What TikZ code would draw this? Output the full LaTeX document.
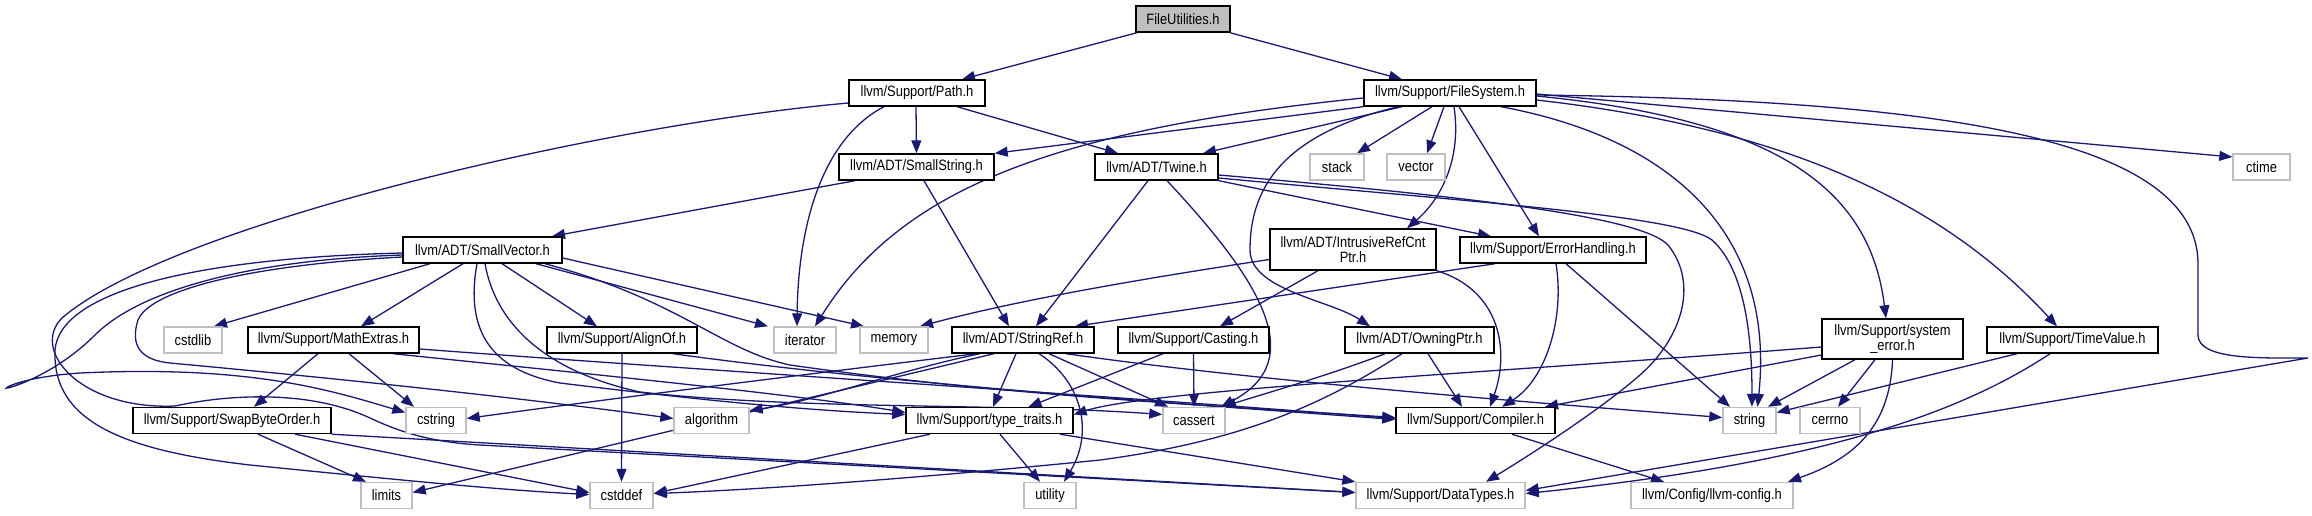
\documentclass[tikz,border=0pt]{standalone}
\usepackage{fontspec}
\setmainfont{Liberation Sans}[FakeStretch=0.86]
\usetikzlibrary{arrows.meta,backgrounds}
\definecolor{navy}{RGB}{25,25,112}
\definecolor{extgray}{RGB}{191,191,191}
\begin{document}
\begin{tikzpicture}[x=1pt,y=-1pt,
  box/.style={draw=black, line width=1.4pt, fill=white, minimum height=26pt, inner sep=0pt, font=\fontsize{15}{15}\selectfont, align=center},
  ext/.style={box, draw=extgray},
  dep/.style={draw=navy, line width=1.3pt, -{Triangle[length=13pt,width=10pt]}}]
\useasboundingbox (0,0) rectangle (2312,515);
% nodes
\node[box, fill=extgray, minimum width=94pt] (root) at (1183,19) {FileUtilities.h};
\node[box, minimum width=136pt] (path) at (917,93) {llvm/Support/Path.h};
\node[box, minimum width=172pt] (fs) at (1450,93) {llvm/Support/FileSystem.h};
\node[box, minimum width=155pt] (ss) at (916.5,167) {llvm/ADT/SmallString.h};
\node[box, minimum width=123pt] (tw) at (1156.5,167) {llvm/ADT/Twine.h};
\node[ext, minimum width=54pt] (stack) at (1337,167) {stack};
\node[ext, minimum width=58pt] (vector) at (1416,167) {vector};
\node[ext, minimum width=57pt] (ctime) at (2261.5,167) {ctime};
\node[box, minimum width=166pt, minimum height=41pt] (irc) at (1353,249.5) {llvm/ADT/IntrusiveRefCnt\\Ptr.h};
\node[box, minimum width=186pt] (eh) at (1553,250) {llvm/Support/ErrorHandling.h};
\node[box, minimum width=159pt] (sv) at (482.5,250) {llvm/ADT/SmallVector.h};
\node[ext, minimum width=58pt] (cstdlib) at (193,340) {cstdlib};
\node[box, minimum width=171pt] (me) at (333.5,340) {llvm/Support/MathExtras.h};
\node[box, minimum width=150pt] (align) at (622,340) {llvm/Support/AlignOf.h};
\node[ext, minimum width=62pt] (iter) at (805,340) {iterator};
\node[ext, minimum width=68pt] (mem) at (894,340) {memory};
\node[box, minimum width=142pt] (sr) at (1023,340) {llvm/ADT/StringRef.h};
\node[box, minimum width=151pt] (cast) at (1193.5,340) {llvm/Support/Casting.h};
\node[box, minimum width=149pt] (own) at (1419.5,340) {llvm/ADT/OwningPtr.h};
\node[box, minimum width=141pt, minimum height=40pt] (se) at (1892.5,339) {llvm/Support/system\\\_error.h};
\node[box, minimum width=171pt] (tv) at (2072.5,340) {llvm/Support/TimeValue.h};
\node[box, minimum width=198pt] (sbo) at (232,420.5) {llvm/Support/SwapByteOrder.h};
\node[ext, minimum width=60pt] (cstring) at (436,420.5) {cstring};
\node[ext, minimum width=75pt] (algo) at (711.5,420.5) {algorithm};
\node[box, minimum width=167pt] (tt) at (989.5,420.5) {llvm/Support/type\_traits.h};
\node[ext, minimum width=62pt] (cassert) at (1194,420.5) {cassert};
\node[box, minimum width=159pt] (comp) at (1475.5,420.5) {llvm/Support/Compiler.h};
\node[ext, minimum width=53pt] (string) at (1749.5,420.5) {string};
\node[ext, minimum width=60pt] (cerrno) at (1830,420.5) {cerrno};
\node[ext, minimum width=51pt] (limits) at (386.5,495.5) {limits};
\node[ext, minimum width=63pt] (cstddef) at (621.5,495.5) {cstddef};
\node[ext, minimum width=52pt] (utility) at (1050,495.5) {utility};
\node[ext, minimum width=169pt] (dt) at (1440.5,495.5) {llvm/Support/DataTypes.h};
\node[ext, minimum width=162pt] (cfg) at (1712,495.5) {llvm/Config/llvm-config.h};
% edges
\begin{scope}[on background layer]
% root
\draw[dep] ([xshift=-46pt]root.south) -- ([xshift=45pt]path.north);
\draw[dep] ([xshift=47pt]root.south) -- ([xshift=-48pt]fs.north);
% Path.h
\draw[dep] ([xshift=-1pt]path.south) -- (ss.north);
\draw[dep] ([xshift=40pt]path.south) -- ([xshift=-38.5pt]tw.north);
\draw[dep] ([xshift=-33pt]path.south) .. controls (820,140) and (798,230) .. ([xshift=-8pt]iter.north);
\draw[dep] ([yshift=-10pt]path.west) .. controls (600,125) and (170,225) .. (62,318)
  .. controls (30,350) and (80,410) .. (175,406)
  .. controls (230,394) and (310,390) .. (370,418)
  .. controls (400,432) and (430,442) .. (480,445)
  -- ([yshift=3pt]dt.west);
% SmallString.h
\draw[dep] ([xshift=-61.5pt]ss.south) -- ([xshift=69.5pt]sv.north);
\draw[dep] ([xshift=7.5pt]ss.south) -- ([xshift=-14pt]sr.north);
% Twine.h
\draw[dep] ([xshift=-8.5pt]tw.south) -- ([xshift=13pt]sr.north);
\draw[dep] ([xshift=10.5pt]tw.south) .. controls (1260,280) and (1310,360) .. ([xshift=27pt]cassert.north);
\draw[dep] (tw.south east) -- ([xshift=-62pt]eh.north);
\draw[dep] ([yshift=-8pt]tw.east) .. controls (1450,195) and (1640,215) .. (1668,245)
  .. controls (1700,285) and (1680,340) .. (1640,375)
  .. controls (1600,410) and (1530,455) .. ([xshift=45.5pt]dt.north);
\draw[dep] ([yshift=-11pt]tw.east) .. controls (1450,200) and (1680,215) .. (1712,240)
  .. controls (1740,265) and (1752,320) .. ([xshift=2.5pt]string.north);
% FileSystem.h
\draw[dep] ([yshift=-5pt]fs.west) .. controls (1050,130) and (900,190) .. ([xshift=10pt]iter.north);
\draw[dep] (fs.south west) -- (ss.north east);
\draw[dep] ([xshift=-48pt]fs.south) -- ([xshift=46.5pt]tw.north);
\draw[dep] ([xshift=-52pt]fs.south) .. controls (1280,135) and (1250,190) .. (1250,250)
  .. controls (1250,290) and (1330,300) .. ([xshift=-49.5pt]own.north);
\draw[dep] ([xshift=-18pt]fs.south) -- ([xshift=20pt]stack.north);
\draw[dep] ([xshift=-6pt]fs.south) -- ([xshift=11pt]vector.north);
\draw[dep] ([xshift=4pt]fs.south) .. controls (1462,160) and (1440,200) .. ([xshift=54pt]irc.north);
\draw[dep] ([xshift=9pt]fs.south) -- ([xshift=-14pt]eh.north);
\draw[dep] ([xshift=51pt]fs.south) .. controls (1680,140) and (1775,240) .. ([xshift=8pt]string.north);
\draw[dep] ([yshift=-3pt]fs.east) .. controls (1780,120) and (1870,190) .. ([xshift=-6.5pt]se.north);
\draw[dep] ([yshift=-7pt]fs.east) .. controls (1800,130) and (1950,210) .. ([xshift=-15.5pt]tv.north);
\draw[dep] ([yshift=-1pt]fs.east) -- ([yshift=10pt]ctime.west);
\draw[dep] ([yshift=-2pt]fs.east) .. controls (1950,100) and (2195,140) .. (2198,262)
  -- (2198,335) .. controls (2198,360) and (2260,358) .. (2308,358)
  -- ([yshift=5pt]dt.east);
% IntrusiveRefCntPtr.h
\draw[dep] ([yshift=-10pt]irc.west) .. controls (1100,285) and (1000,305) .. ([xshift=26pt]mem.north);
\draw[dep] ([xshift=-35pt]irc.south) -- ([xshift=26.5pt]cast.north);
\draw[dep] (irc.south east) .. controls (1500,290) and (1510,350) .. ([xshift=14.5pt]comp.north);
% ErrorHandling.h
\draw[dep] ([xshift=-58pt]eh.south) -- ([xshift=52pt]sr.north);
\draw[dep] ([xshift=3pt]eh.south) .. controls (1565,320) and (1545,380) .. ([xshift=26.5pt]comp.north);
\draw[dep] ([xshift=13pt]eh.south) -- ([xshift=-19.5pt]string.north);
% SmallVector.h
\draw[dep] ([xshift=-52.5pt]sv.south) -- ([xshift=21pt]cstdlib.north);
\draw[dep] ([xshift=-19.5pt]sv.south) -- ([xshift=27.5pt]me.north);
\draw[dep] ([xshift=19.5pt]sv.south) -- ([xshift=-25pt]align.north);
\draw[dep] ([xshift=53.5pt]sv.south) -- ([xshift=-37pt]iter.north);
\draw[dep] ([yshift=-8pt]sv.east) -- ([xshift=-30pt]mem.north);
\draw[dep] ([xshift=-5.5pt]sv.south) .. controls (465,330) and (490,370) .. (560,383)
  .. controls (700,400) and (800,410) .. ([yshift=6pt]tt.west);
\draw[dep] ([xshift=2.5pt]sv.south) .. controls (495,320) and (540,370) .. (640,392)
  .. controls (800,410) and (1000,403) .. ([yshift=6pt]cassert.west);
\draw[dep] ([xshift=62.5pt]sv.south) .. controls (680,300) and (720,350) .. (790,365)
  .. controls (1000,395) and (1200,405) .. ([yshift=3pt]comp.west);
\draw[dep] ([yshift=-5pt]sv.west) .. controls (250,260) and (140,290) .. (95,335)
  .. controls (60,370) and (20,385) .. (8,388)
  .. controls (0,390) and (20,377) .. (80,373)
  .. controls (250,365) and (330,390) .. ([yshift=8pt]cstring.west);
\draw[dep] ([yshift=-7pt]sv.west) .. controls (250,265) and (150,290) .. (138,320)
  .. controls (130,345) and (140,360) .. (170,363)
  .. controls (300,375) and (500,395) .. ([yshift=2pt]algo.west);
\draw[dep] ([yshift=-3pt]sv.west) .. controls (200,258) and (60,290) .. (55,350)
  .. controls (52,420) and (120,450) .. (250,465)
  .. controls (400,480) and (500,490) .. ([yshift=1pt]cstddef.west);
% MathExtras.h
\draw[dep] ([xshift=-15.5pt]me.south) -- ([xshift=22pt]sbo.north);
\draw[dep] ([xshift=15.5pt]me.south) -- ([xshift=-22pt]cstring.north);
\draw[dep] ([yshift=-9pt]me.east) .. controls (700,370) and (1100,395) .. ([yshift=2pt]comp.west);
\draw[dep] ([xshift=59.5pt]me.south) .. controls (600,375) and (800,395) .. ([yshift=8pt]tt.west);
% AlignOf.h
\draw[dep] (align.south) -- (cstddef.north);
\draw[dep] ([xshift=51pt]align.south) .. controls (900,385) and (1200,405) .. ([yshift=1pt]comp.west);
% SwapByteOrder.h
\draw[dep] ([xshift=26pt]sbo.south) -- ([xshift=-20.5pt]limits.north);
\draw[dep] ([xshift=63pt]sbo.south) -- ([yshift=3pt]cstddef.west);
\draw[dep] (sbo.south east) -- ([yshift=3pt]dt.west);
% StringRef.h
\draw[dep] ([xshift=-47pt]sr.south) .. controls (800,375) and (600,400) .. ([yshift=2pt]cstring.east);
\draw[dep] ([xshift=-43pt]sr.south) .. controls (900,370) and (820,400) .. ([yshift=10pt]algo.east);
\draw[dep] ([xshift=-29pt]sr.south) -- ([yshift=3pt]limits.east);
\draw[dep] ([xshift=-7pt]sr.south) -- ([xshift=3.5pt]tt.north);
\draw[dep] ([xshift=16pt]sr.south) .. controls (1080,380) and (1095,430) .. ([xshift=14pt]utility.north);
\draw[dep] ([xshift=26pt]sr.south) -- ([xshift=-26pt]cassert.north);
\draw[dep] ([xshift=43pt]sr.south) .. controls (1250,380) and (1500,400) .. ([yshift=3pt]string.west);
% Casting.h
\draw[dep] ([xshift=-30.5pt]cast.south) -- ([xshift=39pt]tt.north);
\draw[dep] (cast.south) -- (cassert.north);
% OwningPtr.h
\draw[dep] ([xshift=-34.5pt]own.south) .. controls (1330,375) and (1260,395) .. ([xshift=29pt]cassert.north);
\draw[dep] ([xshift=-17.5pt]own.south) .. controls (1330,400) and (1250,440) .. (1100,460)
  .. controls (900,480) and (750,490) .. ([yshift=2pt]cstddef.east);
\draw[dep] ([xshift=8.5pt]own.south) -- ([xshift=-13.5pt]comp.north);
% type_traits.h
\draw[dep] ([xshift=10.5pt]tt.south) -- ([xshift=-10pt]utility.north);
\draw[dep] ([xshift=70.5pt]tt.south) -- (dt.north west);
\draw[dep] ([xshift=-59.5pt]tt.south) -- ([yshift=2pt]cstddef.east);
% Compiler.h
\draw[dep] ([xshift=36.5pt]comp.south) -- ([xshift=-48pt]cfg.north);
% system_error.h
\draw[dep] ([yshift=-8pt]se.west) .. controls (1500,372) and (1150,390) .. ([yshift=6pt]tt.east);
\draw[dep] ([yshift=-16pt]se.west) -- ([xshift=69.5pt]comp.north);
\draw[dep] ([xshift=-37.5pt]se.south) -- ([xshift=18.5pt]string.north);
\draw[dep] ([xshift=-17.5pt]se.south) -- ([xshift=8pt]cerrno.north);
\draw[dep] (se.south) .. controls (1890,430) and (1850,460) .. ([xshift=76pt]cfg.north);
% TimeValue.h
\draw[dep] ([xshift=-55.5pt]tv.south) -- ([yshift=8pt]string.east);
\draw[dep] ([xshift=-22.5pt]tv.south) .. controls (1950,420) and (1800,465) .. ([yshift=2pt]dt.east);
\end{scope}
\end{tikzpicture}
\end{document}
